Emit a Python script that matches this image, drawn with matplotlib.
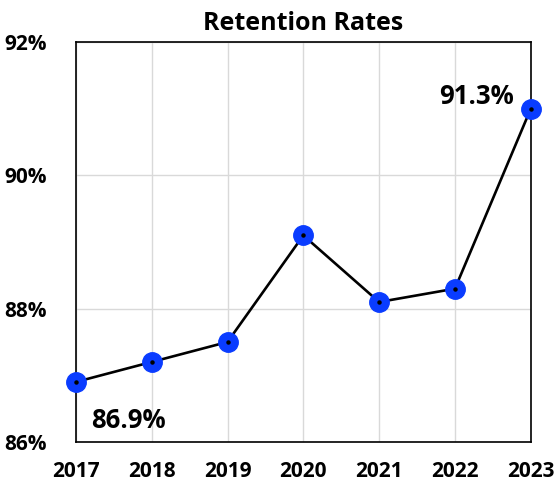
import matplotlib
matplotlib.use("Agg")
import matplotlib.pyplot as plt
from matplotlib.ticker import FuncFormatter

years = [2017, 2018, 2019, 2020, 2021, 2022, 2023]
rates = [86.9, 87.2, 87.5, 89.1, 88.1, 88.3, 91.0]
yticks = [86, 88, 90, 92]
first_label = "86.9%"
last_label = "91.3%"

plt.rcParams["font.family"] = ["Open Sans", "DejaVu Sans"]
plt.rcParams["font.weight"] = "bold"

fig = plt.figure(figsize=(5.54, 4.91), dpi=100)
ax = fig.add_axes([0.137, 0.1, 0.821, 0.814])

ax.plot(years, rates, color="black", lw=1.9, zorder=3)
ax.plot(years, rates, "o", ms=14, color="#0a3cff", zorder=4, clip_on=False)
ax.plot(years, rates, "o", ms=2.2, color="black", zorder=5, clip_on=False)

ax.set_xlim(years[0], years[-1])
ax.set_ylim(86, 92)
ax.set_xticks(years)
ax.set_yticks(yticks)
ax.yaxis.set_major_formatter(FuncFormatter(lambda v, p: f"{v:.0f}%"))
ax.tick_params(axis="x", length=0, pad=14, labelsize=15)
ax.tick_params(axis="y", length=0, pad=21, labelsize=15)
for lab in ax.get_xticklabels() + ax.get_yticklabels():
    lab.set_fontweight("bold")
ax.grid(True, color="#d9d9d9", lw=1)
ax.set_axisbelow(True)
for s in ax.spines.values():
    s.set_color("black")
    s.set_linewidth(1.2)

ax.annotate(first_label, (years[0], rates[0]), xytext=(11, -28), textcoords="offset points",
            ha="left", va="center", fontsize=18.5, fontweight="bold")
ax.annotate(last_label, (years[-1], rates[-1]), xytext=(-12, 9), textcoords="offset points",
            ha="right", va="center", fontsize=18.5, fontweight="bold")

ax.set_title("Retention Rates", fontsize=18, fontweight="bold", pad=9)

fig.savefig("out.png", dpi=100)
